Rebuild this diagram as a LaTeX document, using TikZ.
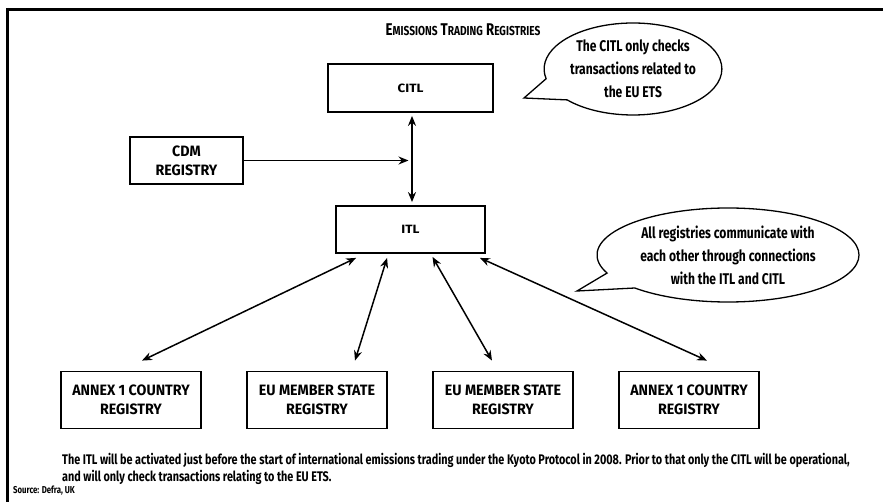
\documentclass[tikz,border=0pt]{standalone}
\usepackage{fontspec}
\setmainfont{Fira Sans}[FakeStretch=0.78]
\newfontfamily\boxfont{Fira Sans}[FakeStretch=0.95]
\newfontfamily\smallboxfont{Fira Sans}[FakeStretch=1.12]
\usetikzlibrary{arrows.meta,shapes.callouts}

\tikzset{
  regbox/.style={draw, line width=1.8pt, fill=white, align=center,
    font=\boxfont\bfseries\fontsize{15}{19}\selectfont, inner sep=0pt},
  smallbox/.style={regbox, font=\smallboxfont\bfseries\fontsize{12}{14}\selectfont},
  bubble/.style={ellipse callout, draw, line width=1.3pt, align=center,
    font=\bfseries\fontsize{15.5}{23}\selectfont, inner sep=0pt,
    callout pointer arc=22},
  link/.style={line width=1.5pt, {Stealth[length=10pt,width=8pt]}-{Stealth[length=10pt,width=8pt]}},
  onelink/.style={line width=1.5pt, -{Stealth[length=10pt,width=8pt]}},
  frameline/.style={line width=2.6pt}
}

\begin{document}
\begin{tikzpicture}[x=1pt,y=-1pt]
\useasboundingbox (0,0) rectangle (883,502);

% frame: top and left rules
\draw[frameline] (6,9.3) -- (883,9.3);
\draw[frameline] (7.3,8) -- (7.3,502);

% title
\node[font=\bfseries\fontsize{17}{19}\selectfont] (title) at (463,30)
  {E{\fontsize{13}{15}\selectfont MISSIONS} T{\fontsize{13}{15}\selectfont RADING} R{\fontsize{13}{15}\selectfont EGISTRIES}};

% registries
\node[smallbox, minimum width=165, minimum height=48] (citl) at (410.5,88) {CITL};
\node[regbox, minimum width=113, minimum height=47] (cdm) at (186.5,160.5) {CDM\\REGISTRY};
\node[smallbox, minimum width=149, minimum height=47] (itl) at (410.5,229.5) {ITL};

\node[regbox, minimum width=140, minimum height=57] (r1) at (131,400) {ANNEX 1 COUNTRY\\REGISTRY};
\node[regbox, minimum width=140, minimum height=57] (r2) at (317,400) {EU MEMBER STATE\\REGISTRY};
\node[regbox, minimum width=140, minimum height=57] (r3) at (503,400) {EU MEMBER STATE\\REGISTRY};
\node[regbox, minimum width=140, minimum height=57] (r4) at (689,400) {ANNEX 1 COUNTRY\\REGISTRY};

% speech bubbles
\node[bubble, callout pointer arc=30, minimum width=160, minimum height=92, callout absolute pointer={(524,98)}] (b1) at (633,69)
  {The CITL only checks\\transactions related to\\the EU ETS};
\node[bubble, minimum width=262, minimum height=94, callout absolute pointer={(577,291)}] (b2) at (728,255)
  {All registries communicate with\\each other through connections\\with the ITL and CITL};

% connectors
\draw[link] ([xshift=1.5pt,yshift=-3pt]citl.south) -- ([xshift=1.5pt,yshift=3pt]itl.north);
\draw[onelink] (cdm.east) -- ([xshift=-2pt]cdm.east -| citl.south);

\draw[link] ([xshift=21pt,yshift=-4pt]itl.south west) -- ([xshift=11pt,yshift=10pt]r1.north);
\draw[link] ([xshift=52pt,yshift=-4pt]itl.south west) -- ([xshift=38pt,yshift=10pt]r2.north);
\draw[link] ([xshift=22pt,yshift=-3pt]itl.south) -- ([xshift=-11pt,yshift=10pt]r3.north);
\draw[link] ([xshift=-6pt,yshift=-4pt]itl.south east) -- ([xshift=18pt,yshift=10pt]r4.north);

% note and source
\node[anchor=north west, align=left, inner sep=0pt,
  font=\bfseries\fontsize{13.9}{17}\selectfont] (note) at (62,453)
  {The ITL will be activated just before the start of international emissions trading under the Kyoto Protocol in 2008. Prior to that only the CITL will be operational,\\
   and will only check transactions relating to the EU ETS.};
\node[anchor=west, inner sep=0pt, font=\bfseries\fontsize{10}{12}\selectfont] (src) at (13,491) {Source: Defra, UK};
\end{tikzpicture}
\end{document}
